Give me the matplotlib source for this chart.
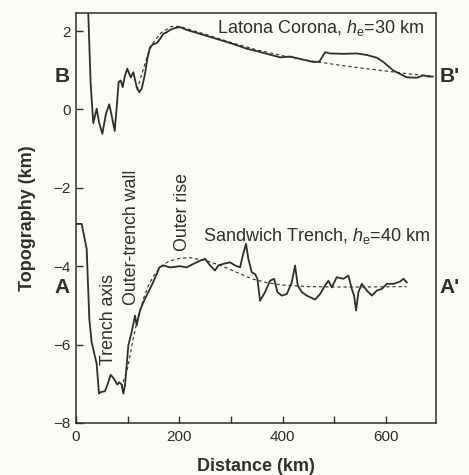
import numpy as np
import matplotlib.pyplot as plt
from matplotlib.ticker import MultipleLocator
import matplotlib.transforms as mtransforms

plt.rcParams['font.family'] = ['Liberation Sans', 'DejaVu Sans']
plt.rcParams['mathtext.fontset'] = 'custom'
plt.rcParams['mathtext.rm'] = 'Liberation Sans'
plt.rcParams['mathtext.it'] = 'Liberation Sans:italic'

# Latona Corona profile (B-B')
b_x = [21, 23.8, 28.4, 33.5, 40, 44.5, 51, 58, 64.5, 69.7, 74.9, 78.8, 82.6, 86.5, 90.4,
       94.9, 99.3, 105.9, 111, 117.5, 122.6, 127.2, 133.6, 138, 143.3, 149.7, 156.2,
       162.6, 169, 175.6, 182, 191.7, 201.4, 214.3, 240, 272.4, 304.5, 330.5, 349.8,
       369.2, 395, 414.3, 433.7, 459.4, 471, 482, 491.7, 517.5, 543.5, 562.8, 582.2,
       595, 614.4, 640.2, 659.6, 672.4, 682, 690.5]
b_y = [3.0, 2.44, 0.65, -0.35, 0.02, -0.32, -0.62, -0.11, 0.13, -0.2, -0.55, 0.06, 0.70,
       0.74, 0.57, 0.87, 1.04, 0.82, 0.95, 0.57, 0.44, 0.53, 0.91, 1.29, 1.59, 1.67,
       1.69, 1.80, 1.93, 1.97, 2.03, 2.08, 2.10, 2.03, 1.93, 1.80, 1.67, 1.55, 1.49,
       1.42, 1.33, 1.35, 1.29, 1.21, 1.22, 1.46, 1.43, 1.42, 1.43, 1.39, 1.32, 1.21,
       0.99, 0.82, 0.81, 0.87, 0.84, 0.84]

# Latona Corona flexure model
bm_x = [118, 125, 132, 140, 150, 165, 185, 200, 250, 300, 350, 400, 450, 500, 550, 600, 650, 690]
bm_y = [0.5, 0.8, 1.1, 1.45, 1.72, 1.96, 2.12, 2.12, 1.92, 1.71, 1.52, 1.37, 1.25, 1.15,
        1.06, 0.98, 0.9, 0.85]

# Sandwich Trench profile (A-A')
a_x = [0, 11, 20.7, 25.8, 30.3, 34.8, 40, 44.5, 48.4, 56, 60.6, 67.1, 73.5, 80, 83.8,
       88.4, 91.6, 94.9, 98.1, 101.3, 107.8, 114.2, 117.5, 120.7, 124, 130.3, 136.7,
       146.4, 156.2, 161.3, 169, 182, 201.4, 214.3, 227.2, 240, 249.7, 259.4, 269,
       275.5, 285.2, 298, 307.8, 317.5, 322.7, 329, 333.6, 340, 346.6, 351, 356.2,
       365.9, 375.6, 383.3, 389.8, 398.3, 408, 417.6, 424, 429.2, 437, 446.6, 462.7,
       472.4, 482, 488.5, 495, 504.6, 517.5, 527.2, 533.7, 538.2, 542, 546.6, 553.1,
       562.8, 572.5, 582.2, 591.8, 601.5, 614.4, 627.3, 633.8, 640.2]
a_y = [-2.92, -2.92, -3.56, -5.34, -5.94, -6.19, -6.49, -7.25, -7.21, -7.19, -7.04,
       -6.77, -6.87, -7.02, -6.96, -7.02, -7.25, -7.04, -6.53, -6.02, -5.68, -5.26,
       -5.51, -5.30, -5.13, -4.92, -4.75, -4.49, -4.2, -4.03, -3.98, -4.03, -4.0,
       -4.03, -3.94, -3.86, -3.81, -3.98, -4.11, -3.98, -3.94, -3.9, -3.98, -4.03,
       -3.73, -3.43, -3.81, -4.15, -4.2, -4.32, -4.88, -4.66, -4.37, -4.32, -4.66,
       -4.75, -4.71, -4.41, -3.98, -4.49, -4.66, -4.75, -4.85, -4.71, -4.49, -4.37,
       -4.54, -4.28, -4.32, -4.24, -4.58, -4.75, -5.13, -4.66, -4.45, -4.62, -4.75,
       -4.62, -4.58, -4.45, -4.45, -4.39, -4.32, -4.41]

# Sandwich Trench flexure model
am_x = [88, 100, 110, 120, 130, 140, 150, 165, 180, 200, 220, 250, 280, 310, 340, 370,
        400, 450, 500, 550, 640]
am_y = [-7.1, -6.6, -5.9, -5.3, -4.85, -4.5, -4.25, -4.0, -3.87, -3.8, -3.78, -3.85,
        -3.98, -4.15, -4.32, -4.42, -4.48, -4.52, -4.53, -4.53, -4.52]

ink = '#2e2e2a'

fig = plt.figure(figsize=(4.69, 4.75), dpi=100)
fig.patch.set_facecolor('#fbfbf8')
ax = fig.add_axes([0.162, 0.1095, 0.768, 0.863])
ax.set_facecolor('#fbfbf8')

ax.plot(b_x, b_y, color=ink, lw=1.3)
ax.plot(bm_x, bm_y, color=ink, lw=0.8, ls=(0, (3, 2.5)))
ax.plot(a_x, a_y, color=ink, lw=1.3)
ax.plot(am_x, am_y, color=ink, lw=0.8, ls=(0, (3, 2.5)))

ax.set_xlim(0, 697)
ax.set_ylim(-8, 2.46)
ax.xaxis.set_major_locator(MultipleLocator(200))
ax.xaxis.set_minor_locator(MultipleLocator(100))
ax.tick_params(which='both', direction='in', length=5, width=1, colors=ink,
               labelsize=11, top=False, right=False)
ax.tick_params(axis='x', pad=5)
ax.set_yticks([2, 0, -2, -4, -6, -8])
ax.set_yticklabels(['2', '0', '\u22122', '\u22124', '\u22126', '\u22128'])
for s in ax.spines.values():
    s.set_color(ink)
    s.set_linewidth(1.1)

ax.set_xlabel('Distance (km)', fontsize=13, fontweight='bold', color=ink, labelpad=10)
ax.set_ylabel('Topography (km)', fontsize=13, fontweight='bold', color=ink, labelpad=13)

ax.text(674, 2.09, 'Latona Corona, $h_{\\rm e}$=30 km', ha='right', va='center',
        fontsize=13, color=ink)
ax.text(685, -3.23, 'Sandwich Trench, $h_{\\rm e}$=40 km', ha='right', va='center',
        fontsize=13, color=ink)
ax.text(62, -5.37, 'Trench axis', rotation=90, ha='center', va='center',
        fontsize=12.8, color=ink)
ax.text(108, -3.25, 'Outer-trench wall', rotation=90, ha='center', va='center',
        fontsize=12.8, color=ink)
ax.text(206, -2.62, 'Outer rise', rotation=90, ha='center', va='center',
        fontsize=12.8, color=ink)

trans = mtransforms.blended_transform_factory(ax.transAxes, ax.transData)
for lab, xx, yy in [('B', -0.018, 0.84), ("B'", 1.01, 0.84),
                    ('A', -0.018, -4.55), ("A'", 1.01, -4.55)]:
    ax.text(xx, yy, lab, transform=trans, ha='right' if xx < 0 else 'left',
            va='center', fontsize=15, fontweight='bold', color=ink)

fig.savefig('out.png', dpi=100, facecolor=fig.get_facecolor())
